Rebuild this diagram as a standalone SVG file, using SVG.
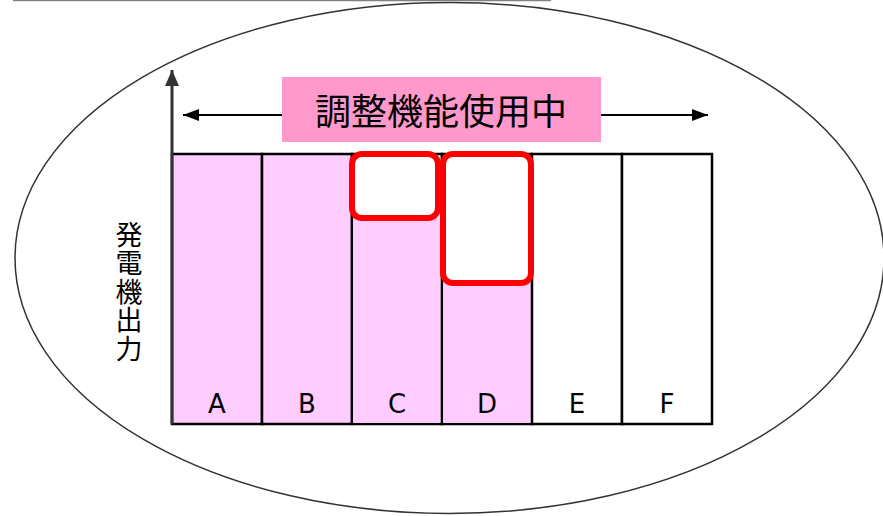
<svg xmlns="http://www.w3.org/2000/svg" width="883" height="516" viewBox="0 0 883 516">
  <defs>
    <style>
      .bar { stroke: #000; stroke-width: 2.5; }
      .pink { fill: #FFCCFF; }
      .white { fill: #FFFFFF; }
      .hl { fill: none; stroke: #FF0000; stroke-width: 6; }
      .lbl { font-family: "DejaVu Sans", "Liberation Sans", sans-serif; font-size: 26px; fill: #000; text-anchor: middle; }
      .jp { font-family: "Noto Sans CJK JP", "Noto Sans", sans-serif; fill: #000; }
    </style>
    <marker id="ahBlack" markerWidth="16" markerHeight="12" refX="16" refY="6" orient="auto" markerUnits="userSpaceOnUse">
      <path d="M0,0 L16,6 L0,12 Z" fill="#000"/>
    </marker>
    <marker id="ahGray" markerWidth="14" markerHeight="16" refX="16" refY="7" orient="auto" markerUnits="userSpaceOnUse">
      <path d="M0,0 L16,7 L0,14 Z" fill="#333"/>
    </marker>
  </defs>

  <line x1="13" y1="0.5" x2="551" y2="0.5" stroke="#808080" stroke-width="1.5"/>

  <ellipse id="boundary" cx="449.5" cy="258" rx="434.5" ry="255.5" fill="none" stroke="#333" stroke-width="1.5"/>

  <g id="bar-A">
    <rect class="bar pink" x="172" y="154" width="90" height="270"/>
    <text class="lbl" x="217" y="413">A</text>
  </g>
  <g id="bar-B">
    <rect class="bar pink" x="262" y="154" width="90" height="270"/>
    <text class="lbl" x="307" y="413">B</text>
  </g>
  <g id="bar-C">
    <rect class="bar white" x="352" y="154" width="90" height="270"/>
    <rect class="pink" x="353.2" y="218" width="87.6" height="204.8"/>
    <text class="lbl" x="397" y="413">C</text>
  </g>
  <g id="bar-D">
    <rect class="bar white" x="442" y="154" width="90" height="270"/>
    <rect class="pink" x="443.2" y="283" width="87.6" height="139.8"/>
    <text class="lbl" x="487" y="413">D</text>
  </g>
  <g id="bar-E">
    <rect class="bar white" x="532" y="154" width="90" height="270"/>
    <text class="lbl" x="577" y="413">E</text>
  </g>
  <g id="bar-F">
    <rect class="bar white" x="622" y="154" width="90" height="270"/>
    <text class="lbl" x="667" y="413">F</text>
  </g>

  <g id="highlight-C">
    <rect class="hl" x="352" y="154" width="86" height="64" rx="10"/>
  </g>
  <g id="highlight-D">
    <rect class="hl" x="443" y="154" width="88" height="129" rx="10"/>
  </g>

  <g id="connectors">
    <line x1="172" y1="424" x2="172" y2="70" stroke="#333" stroke-width="3" marker-end="url(#ahGray)"/>
    <line x1="283" y1="115" x2="183" y2="115" stroke="#000" stroke-width="2" marker-end="url(#ahBlack)"/>
    <line x1="600" y1="115" x2="708" y2="115" stroke="#000" stroke-width="2" marker-end="url(#ahBlack)"/>
  </g>

  <g id="title">
    <rect x="282" y="77" width="319" height="65" fill="#FF99CC"/>
    <text class="jp" x="441" y="109" font-size="36" text-anchor="middle" dominant-baseline="central">調整機能使用中</text>
  </g>

  <g id="y-axis-label">
    <text class="jp" x="129" y="221" font-size="27" writing-mode="vertical-rl" letter-spacing="1.5">発電機出力</text>
  </g>
</svg>
